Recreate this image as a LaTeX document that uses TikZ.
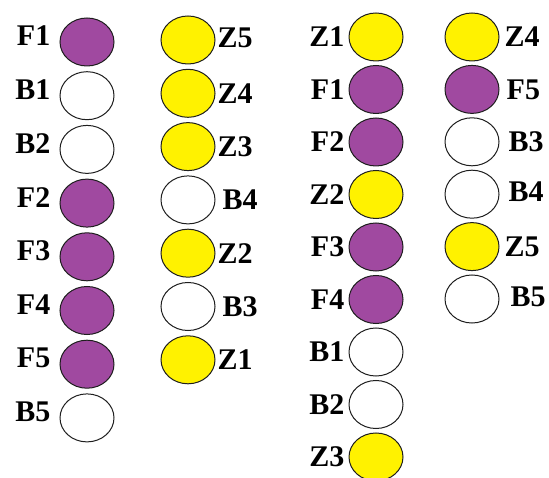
\documentclass[tikz,border=0pt]{standalone}
\usepackage{fontspec}
\setmainfont{Liberation Serif}
\usetikzlibrary{shapes.geometric,positioning}
\definecolor{beadpurple}{RGB}{160,73,160}
\definecolor{beadyellow}{RGB}{255,242,0}
\definecolor{beadline}{RGB}{30,30,30}
\begin{document}
\begin{tikzpicture}[x=1pt,y=1pt,
bead/.style={ellipse, draw=beadline, line width=1pt, minimum width=54pt, minimum height=48pt, inner sep=0pt},
fbead/.style={bead, fill=beadpurple},
zbead/.style={bead, fill=beadyellow},
bbead/.style={bead, fill=white},
tag/.style={inner sep=0pt, font=\fontsize{30}{32}\selectfont\bfseries}
]
\useasboundingbox (0,0) rectangle (549,477);

% left pair
\begin{scope}[node distance=53.7pt]
\node[fbead] (af1) at (87,435) {};
\node[bbead] (ab1) [below of=af1] {};
\node[bbead] (ab2) [below of=ab1] {};
\node[fbead] (af2) [below of=ab2] {};
\node[fbead] (af3) [below of=af2] {};
\node[fbead] (af4) [below of=af3] {};
\node[fbead] (af5) [below of=af4] {};
\node[bbead] (ab5) [below of=af5] {};
\end{scope}
\begin{scope}[node distance=9pt, every node/.append style={yshift=6pt}]
\node[tag] (af1t) [left=of af1] {F1};
\node[tag] (ab1t) [left=of ab1] {B1};
\node[tag] (ab2t) [left=of ab2] {B2};
\node[tag] (af2t) [left=of af2] {F2};
\node[tag] (af3t) [left=of af3] {F3};
\node[tag] (af4t) [left=of af4] {F4};
\node[tag] (af5t) [left=of af5] {F5};
\node[tag] (ab5t) [left=of ab5] {B5};
\end{scope}

\begin{scope}[node distance=53.3pt]
\node[zbead] (bz5) at (188,437) {};
\node[zbead] (bz4) [below of=bz5] {};
\node[zbead] (bz3) [below of=bz4] {};
\node[bbead] (bb4) [below of=bz3] {};
\node[zbead] (bz2) [below of=bb4] {};
\node[bbead] (bb3) [below of=bz2] {};
\node[zbead] (bz1) [below of=bb3] {};
\end{scope}
\begin{scope}[node distance=2pt]
\node[tag] (bz5t) [right=of bz5, yshift=2pt] {Z5};
\node[tag] (bz4t) [right=of bz4] {Z4};
\node[tag] (bz3t) [right=of bz3] {Z3};
\node[tag] (bb4t) [right=7pt of bb4] {B4};
\node[tag] (bz2t) [right=of bz2] {Z2};
\node[tag] (bb3t) [right=7pt of bb3] {B3};
\node[tag] (bz1t) [right=of bz1] {Z1};
\end{scope}

% right pair
\begin{scope}[node distance=52.5pt]
\node[zbead] (cz1) at (376,440) {};
\node[fbead] (cf1) [below of=cz1] {};
\node[fbead] (cf2) [below of=cf1] {};
\node[zbead] (cz2) [below of=cf2] {};
\node[fbead] (cf3) [below of=cz2] {};
\node[fbead] (cf4) [below of=cf3] {};
\node[bbead] (cb1) [below of=cf4] {};
\node[bbead] (cb2) [below of=cb1] {};
\node[zbead] (cz3) [below of=cb2] {};
\end{scope}
\begin{scope}[node distance=4pt]
\node[tag] (cz1t) [left=of cz1] {Z1};
\node[tag] (cf1t) [left=of cf1] {F1};
\node[tag] (cf2t) [left=of cf2] {F2};
\node[tag] (cz2t) [left=of cz2] {Z2};
\node[tag] (cf3t) [left=of cf3] {F3};
\node[tag] (cf4t) [left=of cf4] {F4};
\node[tag] (cb1t) [left=of cb1] {B1};
\node[tag] (cb2t) [left=of cb2] {B2};
\node[tag] (cz3t) [left=of cz3] {Z3};
\end{scope}

\begin{scope}[node distance=5pt]
\node[zbead] (dz4) at (472,440) {};
\end{scope}
\begin{scope}[node distance=52.4pt]
\node[fbead] (df5) [below of=dz4] {};
\node[bbead] (db3) [below of=df5] {};
\node[bbead] (db4) [below of=db3] {};
\node[zbead] (dz5) [below of=db4] {};
\node[bbead] (db5) [below of=dz5] {};
\end{scope}
\begin{scope}[node distance=5pt]
\node[tag] (dz4t) [right=of dz4] {Z4};
\node[tag] (df5t) [right=7pt of df5] {F5};
\node[tag] (db3t) [right=9pt of db3] {B3};
\node[tag] (db4t) [right=9pt of db4, yshift=3pt] {B4};
\node[tag] (dz5t) [right=of dz5] {Z5};
\node[tag] (db5t) [right=11pt of db5, yshift=2pt] {B5};
\end{scope}
\end{tikzpicture}
\end{document}
